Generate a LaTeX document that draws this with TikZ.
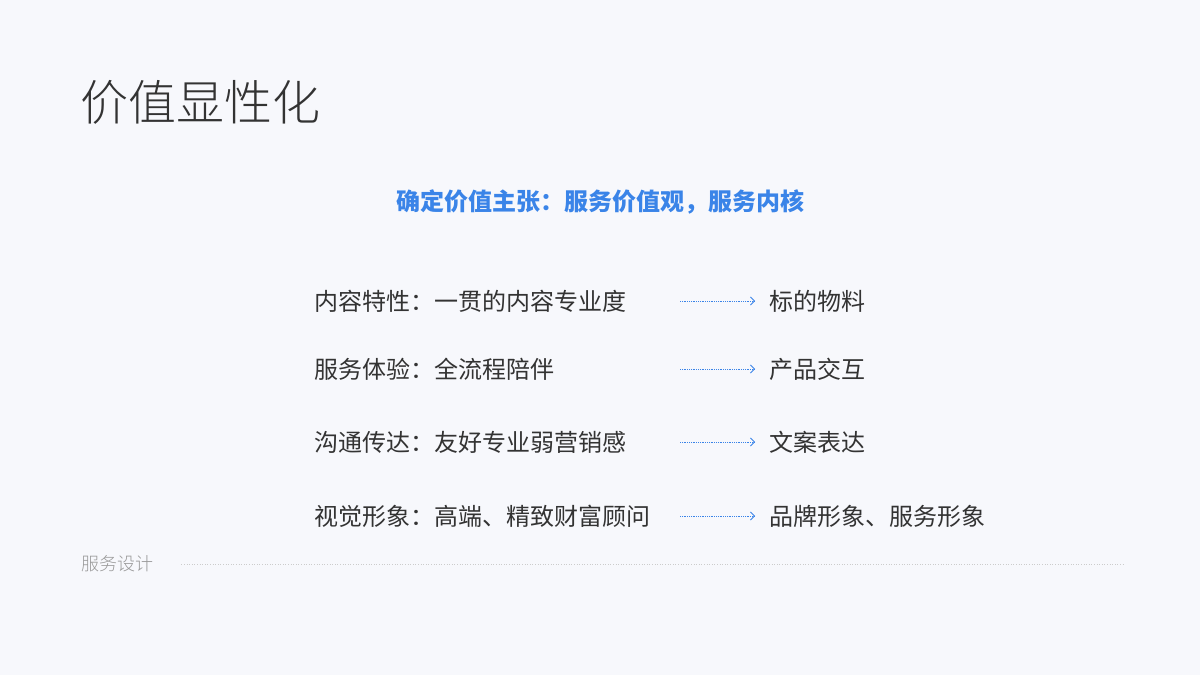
\documentclass[tikz,border=0pt]{standalone}
\usepackage{fontspec}
\newfontfamily\cjk{Noto Sans CJK SC}
\newfontfamily\cjklight{Noto Sans CJK SC Light}
\usetikzlibrary{arrows.meta}
\definecolor{bg}{HTML}{F7F8FC}
\definecolor{txt}{HTML}{333333}
\definecolor{blu}{HTML}{3A84E8}
\definecolor{gr}{HTML}{999999}
\begin{document}
\begin{tikzpicture}[x=1pt,y=-1pt,
  lt/.style={anchor=west,inner sep=0pt,text=txt,font=\cjk\fontsize{24}{24}\selectfont},
  ar/.style={draw=blu,densely dotted,line width=0.8pt,-{Straight Barb[length=4pt,width=8pt,line width=0.8pt]}}]
\fill[bg] (0,0) rectangle (1200,675);
\useasboundingbox (0,0) rectangle (1200,675);
\node[anchor=west,inner sep=0pt,text=txt,font=\cjklight\fontsize{48}{48}\selectfont] (title) at (80,102) {价值显性化};
\node[inner sep=0pt,text=blu,font=\cjk\bfseries\fontsize{24}{24}\selectfont] (sub) at (600,202) {确定价值主张：服务价值观，服务内核};
\foreach \i/\y/\a/\b in {1/301/内容特性：一贯的内容专业度/标的物料,2/369/服务体验：全流程陪伴/产品交互,3/442/沟通传达：友好专业弱营销感/文案表达,4/516/视觉形象：高端、精致财富顾问/品牌形象、服务形象}{
  \node[lt] (l\i) at (314,\y) {\a};
  \coordinate (s\i) at (680,\y);
  \node[lt] (r\i) at (769,\y) {\b};
  \draw[ar] (s\i) -- ([xshift=-14pt]r\i.west);
}
\node[anchor=west,inner sep=0pt,text=gr,font=\cjklight\fontsize{18}{18}\selectfont] (foot) at (81,564) {服务设计};
\coordinate (fe) at (1125,564);
\draw[gr!50,dotted,line width=0.6pt] ([xshift=28pt]foot.east) -- (fe);
\end{tikzpicture}
\end{document}
